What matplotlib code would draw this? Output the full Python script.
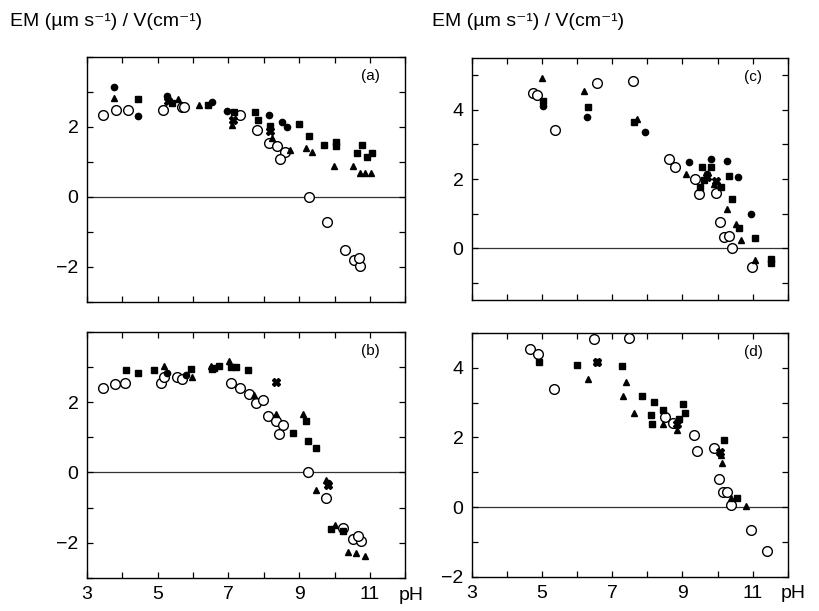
import numpy as np
import matplotlib.pyplot as plt

plt.rcParams['font.family'] = ['Liberation Sans', 'DejaVu Sans']

# ==============================
# DATA (pH, EM/V)
# ==============================

# panel (a)
a_open_x = [3.46, 3.82, 4.17, 5.14, 5.68, 5.75, 7.33, 7.81, 8.14, 8.37, 8.61, 8.47, 9.27, 9.79, 10.28, 10.55, 10.73, 10.69]
a_open_y = [2.34, 2.47, 2.49, 2.47, 2.58, 2.56, 2.34, 1.91, 1.53, 1.44, 1.29, 1.08, 0.0, -0.71, -1.51, -1.80, -1.99, -1.75]
a_circ_x = [3.77, 4.45, 5.27, 6.53, 6.96, 8.14, 8.65, 8.52]
a_circ_y = [3.15, 2.32, 2.89, 2.70, 2.44, 2.34, 1.99, 2.15]
a_tri_x = [3.77, 5.58, 6.17, 7.10, 8.23, 8.75, 9.18, 9.36, 9.98, 10.52, 10.73, 10.87, 11.02]
a_tri_y = [2.83, 2.80, 2.63, 2.06, 1.68, 1.34, 1.39, 1.29, 0.89, 0.89, 0.69, 0.69, 0.69]
a_sq_x = [4.45, 5.40, 6.43, 7.15, 7.76, 7.85, 8.18, 8.99, 9.27, 9.69, 10.05, 10.05, 10.64, 10.78, 11.06, 10.92]
a_sq_y = [2.80, 2.69, 2.63, 2.41, 2.41, 2.20, 2.03, 2.09, 1.74, 1.49, 1.58, 1.44, 1.25, 1.49, 1.25, 1.15]
a_x_x = [7.14, 8.18, 5.30]
a_x_y = [2.20, 1.87, 2.75]

# panel (b)
b_open_x = [3.45, 3.79, 4.08, 5.09, 5.18, 5.56, 5.70, 7.07, 7.32, 7.59, 7.78, 7.97, 8.11, 8.34, 8.53, 8.42, 9.24, 9.76, 10.23, 10.52, 10.75, 10.66]
b_open_y = [2.39, 2.51, 2.55, 2.53, 2.72, 2.72, 2.65, 2.55, 2.41, 2.22, 1.97, 2.07, 1.61, 1.47, 1.35, 1.08, 0.02, -0.73, -1.57, -1.89, -1.96, -1.80]
b_circ_x = [5.27, 5.80, 9.80]
b_circ_y = [2.82, 2.77, -0.29]
b_tri_x = [5.18, 5.98, 6.50, 7.02, 7.73, 8.34, 9.10, 9.75, 9.48, 10.00, 10.38, 10.61, 10.85]
b_tri_y = [3.03, 2.72, 3.03, 3.16, 2.19, 1.66, 1.66, -0.22, -0.51, -1.48, -2.25, -2.30, -2.38]
b_sq_x = [4.11, 4.45, 4.90, 5.94, 6.55, 6.74, 6.60, 7.07, 7.21, 7.54, 8.82, 9.24, 9.48, 9.90, 10.23, 9.19]
b_sq_y = [2.92, 2.82, 2.92, 2.94, 2.94, 3.03, 2.97, 3.01, 3.01, 2.92, 1.13, 0.89, 0.70, -1.62, -1.67, 1.47]
b_x_x = [8.34, 9.80]
b_x_y = [2.56, -0.35]

# panel (c)
c_open_x = [4.73, 4.87, 5.37, 6.56, 7.59, 8.61, 8.80, 9.37, 9.47, 9.94, 10.07, 10.18, 10.32, 10.42, 10.99]
c_open_y = [4.50, 4.43, 3.42, 4.79, 4.83, 2.58, 2.36, 2.00, 1.57, 1.59, 0.76, 0.33, 0.35, -0.01, -0.55]
c_circ_x = [5.02, 6.29, 7.94, 9.18, 9.80, 10.26, 10.58, 10.96, 9.70]
c_circ_y = [4.12, 3.78, 3.35, 2.48, 2.58, 2.53, 2.07, 1.00, 2.15]
c_tri_x = [4.99, 6.20, 7.71, 9.09, 10.28, 10.51, 10.66, 11.06, 9.89]
c_tri_y = [4.93, 4.55, 3.74, 2.15, 1.14, 0.71, 0.23, -0.35, 1.86]
c_sq_x = [5.04, 6.32, 7.61, 9.56, 9.80, 9.61, 10.32, 10.42, 10.61, 11.06, 11.51, 11.51, 9.51, 10.09]
c_sq_y = [4.26, 4.09, 3.66, 2.34, 2.34, 1.96, 2.10, 1.43, 0.57, 0.28, -0.30, -0.44, 1.76, 1.76]
c_x_x = [9.70, 9.95]
c_x_y = [2.05, 1.95]

# panel (d)
d_open_x = [4.66, 4.89, 5.34, 6.47, 7.49, 8.51, 8.73, 9.32, 9.40, 9.89, 10.04, 10.16, 10.28, 10.39, 10.96, 11.40]
d_open_y = [4.54, 4.40, 3.40, 4.83, 4.85, 2.59, 2.43, 2.07, 1.61, 1.69, 0.81, 0.43, 0.43, 0.05, -0.65, -1.25]
d_tri_x = [6.32, 7.40, 7.32, 7.61, 8.45, 8.85, 10.09, 10.13, 10.80, 10.39]
d_tri_y = [3.69, 3.59, 3.19, 2.69, 2.40, 2.21, 1.49, 1.26, 0.02, 0.26]
d_sq_x = [4.92, 6.01, 6.58, 7.28, 7.85, 8.18, 8.09, 8.45, 8.13, 9.02, 9.06, 8.89, 10.18, 10.56]
d_sq_y = [4.16, 4.09, 4.16, 4.05, 3.19, 3.02, 2.64, 2.78, 2.40, 2.97, 2.69, 2.54, 1.92, 0.26]
d_x_x = [8.85, 10.07, 6.58]
d_x_y = [2.40, 1.59, 4.16]

ylims = {'a': (-3, 4), 'b': (-3, 4), 'c': (-1.5, 5.5), 'd': (-2, 5)}
ylab = {'a': [-2, 0, 2], 'b': [-2, 0, 2], 'c': [0, 2, 4], 'd': [-2, 0, 2, 4]}

# ==============================
# FIGURE
# ==============================
fig = plt.figure(figsize=(8.19, 6.11), dpi=100)
boxes = {
    'a': [0.106, 0.506, 0.389, 0.401],
    'b': [0.106, 0.054, 0.389, 0.403],
    'c': [0.576, 0.509, 0.386, 0.396],
    'd': [0.576, 0.056, 0.386, 0.399],
}
series = {
    'a': (a_open_x, a_open_y, a_circ_x, a_circ_y, a_tri_x, a_tri_y, a_sq_x, a_sq_y, a_x_x, a_x_y),
    'b': (b_open_x, b_open_y, b_circ_x, b_circ_y, b_tri_x, b_tri_y, b_sq_x, b_sq_y, b_x_x, b_x_y),
    'c': (c_open_x, c_open_y, c_circ_x, c_circ_y, c_tri_x, c_tri_y, c_sq_x, c_sq_y, c_x_x, c_x_y),
    'd': (d_open_x, d_open_y, [], [], d_tri_x, d_tri_y, d_sq_x, d_sq_y, d_x_x, d_x_y),
}

for key in ['a', 'b', 'c', 'd']:
    ax = fig.add_axes(boxes[key])
    ox, oy, cx, cy, tx, ty, sx, sy, xx, xy = series[key]
    ax.axhline(0, color='#333333', lw=0.9, zorder=1)
    ax.plot(ox, oy, 'o', ms=7, mfc='white', mec='black', mew=1.0, ls='none', zorder=3)
    ax.plot(cx, cy, 'o', ms=4.5, color='black', ls='none', zorder=4)
    ax.plot(tx, ty, '^', ms=5, color='black', ls='none', zorder=4)
    ax.plot(sx, sy, 's', ms=5, color='black', ls='none', zorder=4)
    ax.plot(xx, xy, 'X', ms=6, color='black', ls='none', zorder=4)

    ax.set_xlim(3, 12)
    ax.set_ylim(*ylims[key])
    xt = list(range(3, 13))
    ax.set_xticks(xt)
    if key in ('b', 'd'):
        ax.set_xticklabels([str(v) if (v % 2 == 1 and v < 12) else '' for v in xt])
        ax.text(12.15, -0.035, 'pH', transform=ax.get_xaxis_transform(),
                ha='center', va='top', fontsize=14)
    else:
        ax.set_xticklabels([])
    lo, hi = ylims[key]
    yt = list(range(int(np.ceil(lo)), int(np.floor(hi)) + 1))
    ax.set_yticks(yt)
    ax.set_yticklabels([str(v).replace('-', '\u2212') if v in ylab[key] else '' for v in yt])
    ax.tick_params(direction='in', top=True, right=True, length=4, width=0.9,
                   labelsize=14, pad=6)
    for sp in ax.spines.values():
        sp.set_linewidth(1.0)
    ax.text(0.89, 0.92, '(%s)' % key, transform=ax.transAxes, ha='center', va='center', fontsize=11)

fig.text(0.012, 0.965, 'EM (\u00b5m s\u207b\u00b9) / V(cm\u207b\u00b9)', fontsize=14, va='center', ha='left')
fig.text(0.528, 0.965, 'EM (\u00b5m s\u207b\u00b9) / V(cm\u207b\u00b9)', fontsize=14, va='center', ha='left')

fig.savefig('out.png', dpi=100)
